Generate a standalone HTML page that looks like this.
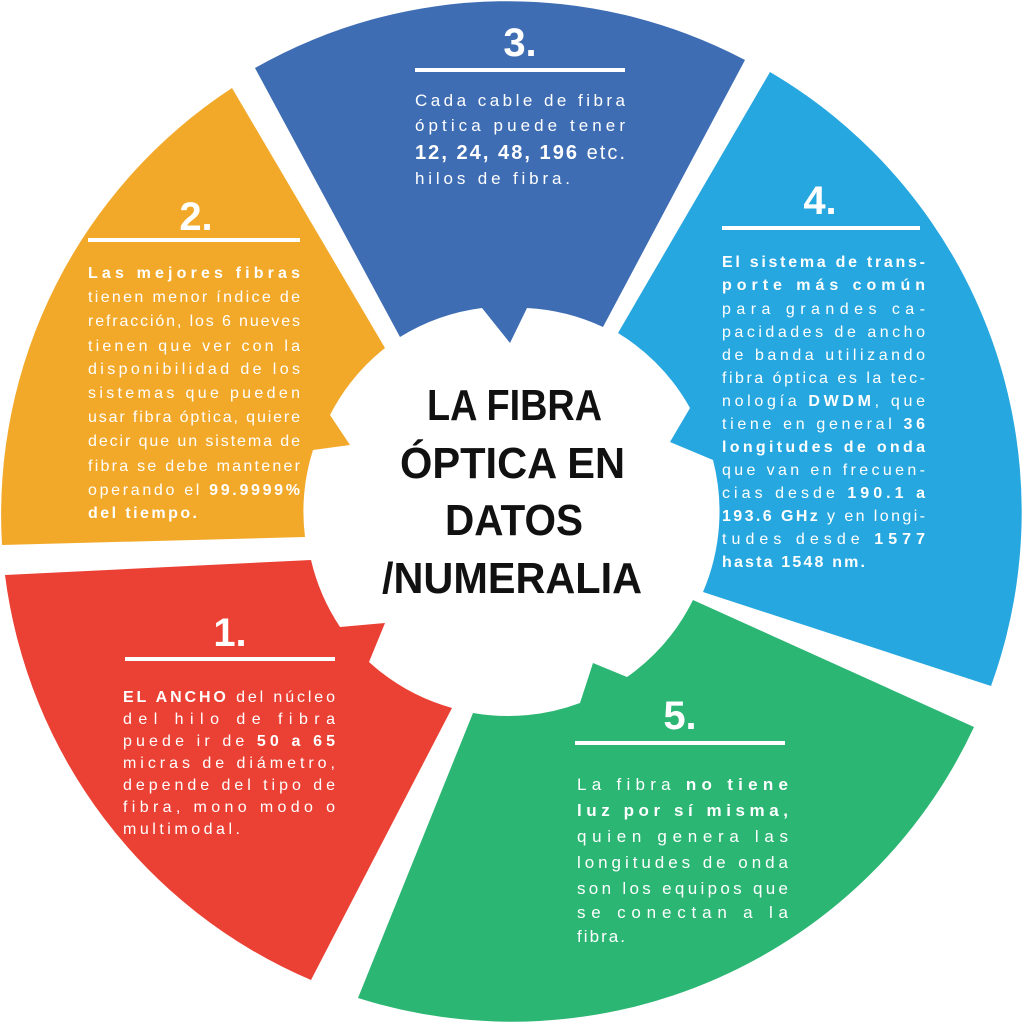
<!DOCTYPE html>
<html><head><meta charset="utf-8"><style>
html,body{margin:0;padding:0;background:#fff;}
svg{display:block;}
text{font-family:"Liberation Sans",sans-serif;fill:#fff;}
.t{font-size:16px;}
.b{font-weight:bold;}
.num{font-size:40px;font-weight:bold;text-anchor:middle;}
.title{font-size:44px;font-weight:bold;fill:#111;}
</style></head><body>
<svg width="1024" height="1024" viewBox="0 0 1024 1024" xmlns="http://www.w3.org/2000/svg">
<!-- seg 3 -->
<path fill="#3e6db4" d="M255,68 A510,510 0 0 1 745,60 L603,327 A205,205 0 0 0 527,308 L510,343 L482,308 A205,205 0 0 0 400,337 Z"/>
<!-- seg 4 -->
<path fill="#27a7df" d="M770,72 A510,510 0 0 1 991,686 L703,592 A205,205 0 0 0 713,460 L670,442 L690,408 A205,205 0 0 0 618,333 Z"/>
<!-- seg 5 -->
<path fill="#2bb673" d="M974,727 A510,510 0 0 1 358,998 L473,713 A205,205 0 0 0 580,703 L593,663 L627,677 A205,205 0 0 0 693,600 Z"/>
<!-- seg 1 -->
<path fill="#eb4034" d="M311,980 A510,510 0 0 1 5,575 L311,560 A205,205 0 0 0 340,627 L385,623 L369,662 A205,205 0 0 0 452,708 Z"/>
<!-- seg 2 -->
<path fill="#f2a92a" d="M2,545 A510,510 0 0 1 232,88 L385,348 A205,205 0 0 0 330,415 L350,445 L313,450 A205,205 0 0 0 305,537 Z"/>

<!-- title -->
<text class="title" x="427" y="420" textLength="175" lengthAdjust="spacingAndGlyphs">LA FIBRA</text>
<text class="title" x="400" y="478" textLength="225" lengthAdjust="spacingAndGlyphs">ÓPTICA EN</text>
<text class="title" x="445" y="535" textLength="138" lengthAdjust="spacingAndGlyphs">DATOS</text>
<text class="title" x="382" y="593" textLength="260" lengthAdjust="spacingAndGlyphs">/NUMERALIA</text>

<!-- seg 3 text -->
<text class="num" x="520" y="56">3.</text>
<rect x="415" y="68" width="210" height="4" fill="#fff"/>
<text style="font-size:17px" x="415" y="106" textLength="210" lengthAdjust="spacing">Cada cable de fibra</text>
<text style="font-size:17px" x="415" y="131" textLength="210" lengthAdjust="spacing">óptica puede tener</text>
<text style="font-size:20px" x="415" y="159" textLength="210" lengthAdjust="spacing"><tspan class="b">12, 24, 48, 196</tspan> etc.</text>
<text style="font-size:17px" x="415" y="184" textLength="155" lengthAdjust="spacing">hilos de fibra.</text>

<!-- seg 2 text -->
<text class="num" x="196" y="230">2.</text>
<rect x="88" y="238" width="212" height="4" fill="#fff"/>
<g class="t">
<text x="88" y="278" textLength="212" lengthAdjust="spacing" class="b">Las mejores fibras</text>
<text x="88" y="302" textLength="212" lengthAdjust="spacing">tienen menor índice de</text>
<text x="88" y="326" textLength="212" lengthAdjust="spacing">refracción, los 6 nueves</text>
<text x="88" y="351" textLength="212" lengthAdjust="spacing">tienen que ver con la</text>
<text x="88" y="374" textLength="212" lengthAdjust="spacing">disponibilidad de los</text>
<text x="88" y="398" textLength="212" lengthAdjust="spacing">sistemas que pueden</text>
<text x="88" y="422" textLength="212" lengthAdjust="spacing">usar fibra óptica, quiere</text>
<text x="88" y="446" textLength="212" lengthAdjust="spacing">decir que un sistema de</text>
<text x="88" y="471" textLength="212" lengthAdjust="spacing">fibra se debe mantener</text>
<text x="88" y="495" textLength="212" lengthAdjust="spacing">operando el <tspan class="b">99.9999%</tspan></text>
<text x="88" y="518" textLength="109" lengthAdjust="spacing" class="b">del tiempo.</text>
</g>

<!-- seg 4 text -->
<text class="num" x="820" y="214">4.</text>
<rect x="722" y="226" width="198" height="4" fill="#fff"/>
<g class="t">
<text x="722" y="267" textLength="203" lengthAdjust="spacing" class="b">El sistema de trans-</text>
<text x="722" y="290" textLength="203" lengthAdjust="spacing" class="b">porte más común</text>
<text x="722" y="314" textLength="203" lengthAdjust="spacing">para grandes ca-</text>
<text x="722" y="337" textLength="203" lengthAdjust="spacing">pacidades de ancho</text>
<text x="722" y="360" textLength="203" lengthAdjust="spacing">de banda utilizando</text>
<text x="722" y="383" textLength="203" lengthAdjust="spacing">fibra óptica es la tec-</text>
<text x="722" y="406" textLength="203" lengthAdjust="spacing">nología <tspan class="b">DWDM</tspan>, que</text>
<text x="722" y="429" textLength="203" lengthAdjust="spacing">tiene en general <tspan class="b">36</tspan></text>
<text x="722" y="452" textLength="203" lengthAdjust="spacing" class="b">longitudes de onda</text>
<text x="722" y="475" textLength="203" lengthAdjust="spacing">que van en frecuen-</text>
<text x="722" y="498" textLength="203" lengthAdjust="spacing">cias desde <tspan class="b">190.1 a</tspan></text>
<text x="722" y="521" textLength="203" lengthAdjust="spacing"><tspan class="b">193.6 GHz</tspan> y en longi-</text>
<text x="722" y="544" textLength="203" lengthAdjust="spacing">tudes desde <tspan class="b">1577</tspan></text>
<text x="722" y="567" textLength="143" lengthAdjust="spacing" class="b">hasta 1548 nm.</text>
</g>

<!-- seg 1 text -->
<text class="num" x="230" y="646">1.</text>
<rect x="125" y="657" width="210" height="4" fill="#fff"/>
<g class="t">
<text x="123" y="702" textLength="212" lengthAdjust="spacing"><tspan class="b">EL ANCHO</tspan> del núcleo</text>
<text x="123" y="724" textLength="212" lengthAdjust="spacing">del hilo de fibra</text>
<text x="123" y="746" textLength="212" lengthAdjust="spacing">puede ir de <tspan class="b">50 a 65</tspan></text>
<text x="123" y="768" textLength="212" lengthAdjust="spacing">micras de diámetro,</text>
<text x="123" y="790" textLength="212" lengthAdjust="spacing">depende del tipo de</text>
<text x="123" y="812" textLength="212" lengthAdjust="spacing">fibra, mono modo o</text>
<text x="123" y="834" textLength="117" lengthAdjust="spacing">multimodal.</text>
</g>

<!-- seg 5 text -->
<text class="num" x="680" y="729">5.</text>
<rect x="575" y="741" width="210" height="4" fill="#fff"/>
<g style="font-size:17px">
<text x="577" y="790" textLength="211" lengthAdjust="spacing">La fibra <tspan class="b">no tiene</tspan></text>
<text x="577" y="816" textLength="211" lengthAdjust="spacing" class="b">luz por sí misma,</text>
<text x="577" y="842" textLength="211" lengthAdjust="spacing">quien genera las</text>
<text x="577" y="868" textLength="211" lengthAdjust="spacing">longitudes de onda</text>
<text x="577" y="894" textLength="211" lengthAdjust="spacing">son los equipos que</text>
<text x="577" y="918" textLength="211" lengthAdjust="spacing">se conectan a la</text>
<text x="577" y="942" textLength="48" lengthAdjust="spacing">fibra.</text>
</g>
</svg>
</body></html>
